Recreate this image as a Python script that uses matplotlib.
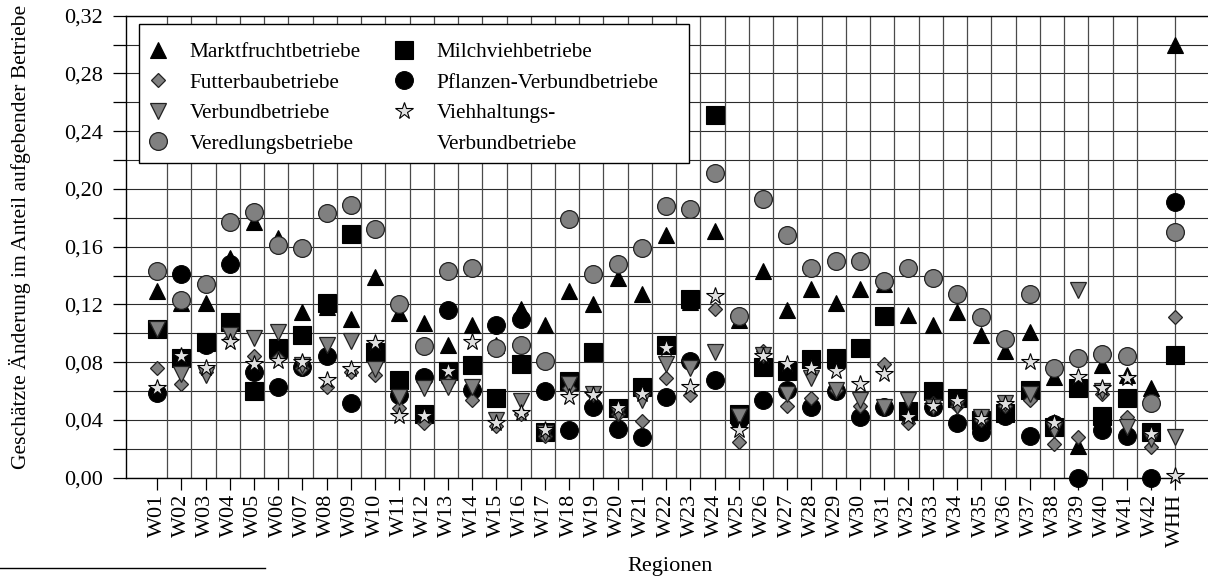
import matplotlib
matplotlib.use("Agg")
import matplotlib.pyplot as plt
from matplotlib.lines import Line2D
from matplotlib.patches import Rectangle
from matplotlib.ticker import MultipleLocator, FuncFormatter
import numpy as np

plt.rcParams['font.family'] = ['Liberation Serif', 'DejaVu Serif']

regions = [f"W{i:02d}" for i in range(1, 43)] + ["WHH"]

marktfrucht = [0.129, 0.121, 0.121, 0.152, 0.177, 0.166, 0.115, 0.118, 0.110, 0.139,
               0.114, 0.107, 0.092, 0.106, 0.092, 0.117, 0.106, 0.129, 0.120, 0.138,
               0.127, 0.168, 0.122, 0.171, 0.109, 0.143, 0.116, 0.131, 0.121, 0.131,
               0.134, 0.113, 0.106, 0.115, 0.099, 0.088, 0.101, 0.070, 0.022, 0.078,
               0.071, 0.062, 0.300]
futterbau = [0.076, 0.065, 0.073, 0.096, 0.084, 0.083, 0.076, 0.063, 0.073, 0.071,
             0.048, 0.038, 0.066, 0.054, 0.036, 0.044, 0.029, 0.062, 0.058, 0.044,
             0.039, 0.069, 0.057, 0.117, 0.025, 0.088, 0.050, 0.055, 0.061, 0.050,
             0.079, 0.038, 0.052, 0.050, 0.040, 0.050, 0.054, 0.023, 0.028, 0.058,
             0.042, 0.021, 0.111]
verbund = [0.103, 0.072, 0.071, 0.099, 0.097, 0.101, 0.078, 0.092, 0.095, 0.075,
           0.056, 0.062, 0.063, 0.063, 0.040, 0.053, 0.031, 0.065, 0.058, 0.045,
           0.054, 0.079, 0.076, 0.087, 0.043, 0.085, 0.058, 0.069, 0.061, 0.054,
           0.049, 0.054, 0.049, 0.050, 0.042, 0.052, 0.058, 0.033, 0.130, 0.060,
           0.035, 0.027, 0.028]
veredlung = [0.143, 0.123, 0.134, 0.177, 0.184, 0.161, 0.159, 0.183, 0.189, 0.172,
             0.120, 0.091, 0.143, 0.145, 0.090, 0.092, 0.081, 0.179, 0.141, 0.148,
             0.159, 0.188, 0.186, 0.211, 0.112, 0.193, 0.168, 0.145, 0.150, 0.150,
             0.136, 0.145, 0.138, 0.127, 0.111, 0.096, 0.127, 0.076, 0.083, 0.086,
             0.084, 0.052, 0.170]
milchvieh = [0.103, 0.083, 0.094, 0.108, 0.060, 0.090, 0.099, 0.121, 0.169, 0.087,
             0.068, 0.044, 0.074, 0.078, 0.055, 0.079, 0.032, 0.067, 0.087, 0.048,
             0.063, 0.092, 0.124, 0.251, 0.044, 0.077, 0.074, 0.082, 0.083, 0.090,
             0.112, 0.046, 0.060, 0.055, 0.040, 0.045, 0.061, 0.035, 0.062, 0.043,
             0.055, 0.032, 0.085]
pflanzen_verbund = [0.059, 0.141, 0.092, 0.148, 0.073, 0.063, 0.077, 0.084, 0.052, 0.085,
                    0.057, 0.070, 0.116, 0.061, 0.106, 0.110, 0.060, 0.033, 0.049, 0.034,
                    0.028, 0.056, 0.081, 0.068, 0.040, 0.054, 0.061, 0.049, 0.060, 0.042,
                    0.049, 0.044, 0.049, 0.038, 0.032, 0.043, 0.029, 0.037, 0.000, 0.033,
                    0.029, 0.000, 0.191]
viehhaltung_verbund = [0.062, 0.084, 0.076, 0.094, 0.079, 0.081, 0.080, 0.068, 0.075, 0.093,
                       0.043, 0.043, 0.074, 0.094, 0.038, 0.045, 0.033, 0.056, 0.057, 0.048,
                       0.058, 0.090, 0.063, 0.126, 0.033, 0.084, 0.079, 0.076, 0.074, 0.065,
                       0.072, 0.042, 0.050, 0.053, 0.041, 0.051, 0.080, 0.038, 0.070, 0.062,
                       0.069, 0.030, 0.001]

FS_TICK = 16
FS_LEG = 15.3
FS_LAB = 15.6
GRAY = '#808080'
EDGE = '#222222'
W, H = 1208, 580
AX_L, AX_T, AX_B = 126, 15.7, 477.7

fig = plt.figure(figsize=(W/100, H/100), dpi=100)
ax = fig.add_axes([AX_L/W, 1-AX_B/H, 1-AX_L/W, (AX_B-AX_T)/H])
AXW, AXH = W-AX_L, AX_B-AX_T

def ax_xy(px, py):
    return (px-AX_L)/AXW, (AX_B-py)/AXH

x = np.arange(len(regions))

h_markt, = ax.plot(x, marktfrucht, linestyle='none', marker='^', ms=11.5,
                   mfc='black', mec='black', mew=0.8, zorder=3, clip_on=False)
h_milch, = ax.plot(x, milchvieh, linestyle='none', marker='s', ms=13.5,
                   mfc='black', mec='black', mew=0.8, zorder=4, clip_on=False)
h_pfl, = ax.plot(x, pflanzen_verbund, linestyle='none', marker='o', ms=12.8,
                 mfc='black', mec='black', mew=0.8, zorder=5, clip_on=False)
h_ver, = ax.plot(x, veredlung, linestyle='none', marker='o', ms=12.8,
                 mfc=GRAY, mec=EDGE, mew=0.9, zorder=6, clip_on=False)
h_fut, = ax.plot(x, futterbau, linestyle='none', marker='D', ms=7.6,
                 mfc=GRAY, mec=EDGE, mew=0.9, zorder=7, clip_on=False)
h_vb, = ax.plot(x, verbund, linestyle='none', marker='v', ms=11.5,
                mfc=GRAY, mec=EDGE, mew=0.9, zorder=8, clip_on=False)
h_vieh, = ax.plot(x, viehhaltung_verbund, linestyle='none', marker='*', ms=13,
                  mfc='#e0e0e0', mec='black', mew=0.8, zorder=9, clip_on=False)

ax.set_xlim(-1.28, 43.36)
ax.set_ylim(0, 0.32)

# y axis
ax.yaxis.set_major_locator(MultipleLocator(0.04))
ax.yaxis.set_minor_locator(MultipleLocator(0.02))
ax.yaxis.set_major_formatter(FuncFormatter(lambda v, p: f"{v:.2f}".replace('.', ',')))
ax.tick_params(axis='y', which='both', direction='out', length=9.4, width=0.9,
               color='black', labelsize=FS_TICK, pad=7)
ax.grid(axis='y', which='both', color='#2b2b2b', linewidth=0.8, zorder=1)

# x axis
ax.set_xticks(x)
ax.set_xticklabels(regions, rotation=90, fontsize=FS_TICK)
ax.tick_params(axis='x', which='major', direction='out', length=8.6, width=0.9,
               color='black', pad=3)

# vertical grid lines (between regions) and through WHH
for xi in list(x[:-2] + 0.42) + [x[-1]]:
    ax.axvline(xi, color='#4a4a4a', linewidth=0.9, zorder=1)

ax.set_axisbelow(True)
for s in ['left', 'bottom', 'top']:
    ax.spines[s].set_color('black')
    ax.spines[s].set_linewidth(1.0)
ax.spines['right'].set_visible(False)

# legend frame
fx0, fy0 = ax_xy(139, 163)
fx1, fy1 = ax_xy(689, 24)
ax.add_patch(Rectangle((fx0, fy0), fx1-fx0, fy1-fy0, transform=ax.transAxes,
                       facecolor='white', edgecolor='black', linewidth=1.0,
                       zorder=19, clip_on=False))

blank = Line2D([], [], linestyle='none', marker=None)
handles = [h_markt, h_fut, h_vb, h_ver, h_milch, h_pfl, h_vieh, blank]
labels = ['Marktfruchtbetriebe', 'Futterbaubetriebe', 'Verbundbetriebe',
          'Veredlungsbetriebe', 'Milchviehbetriebe', 'Pflanzen-Verbundbetriebe',
          'Viehhaltungs-', 'Verbundbetriebe']
leg = ax.legend(handles, labels, ncol=2, loc='upper left',
                bbox_to_anchor=ax_xy(143, 42.3),
                frameon=False, fontsize=FS_LEG, handlelength=1.4, handletextpad=0.8,
                columnspacing=1.35, labelspacing=0.5, borderpad=0, borderaxespad=0)
leg.set_zorder(20)

fig.text(20/W, 1-237/H, 'Geschätzte Änderung im Anteil aufgebender Betriebe',
         rotation=90, ha='center', va='center', fontsize=FS_LAB)
fig.text(670/W, 1-566/H, 'Regionen', ha='center', va='center', fontsize=16)

fig.add_artist(Line2D([0, 265/W], [1-568/H, 1-568/H], color='black', linewidth=1.0))

fig.savefig('out.png', dpi=100)
